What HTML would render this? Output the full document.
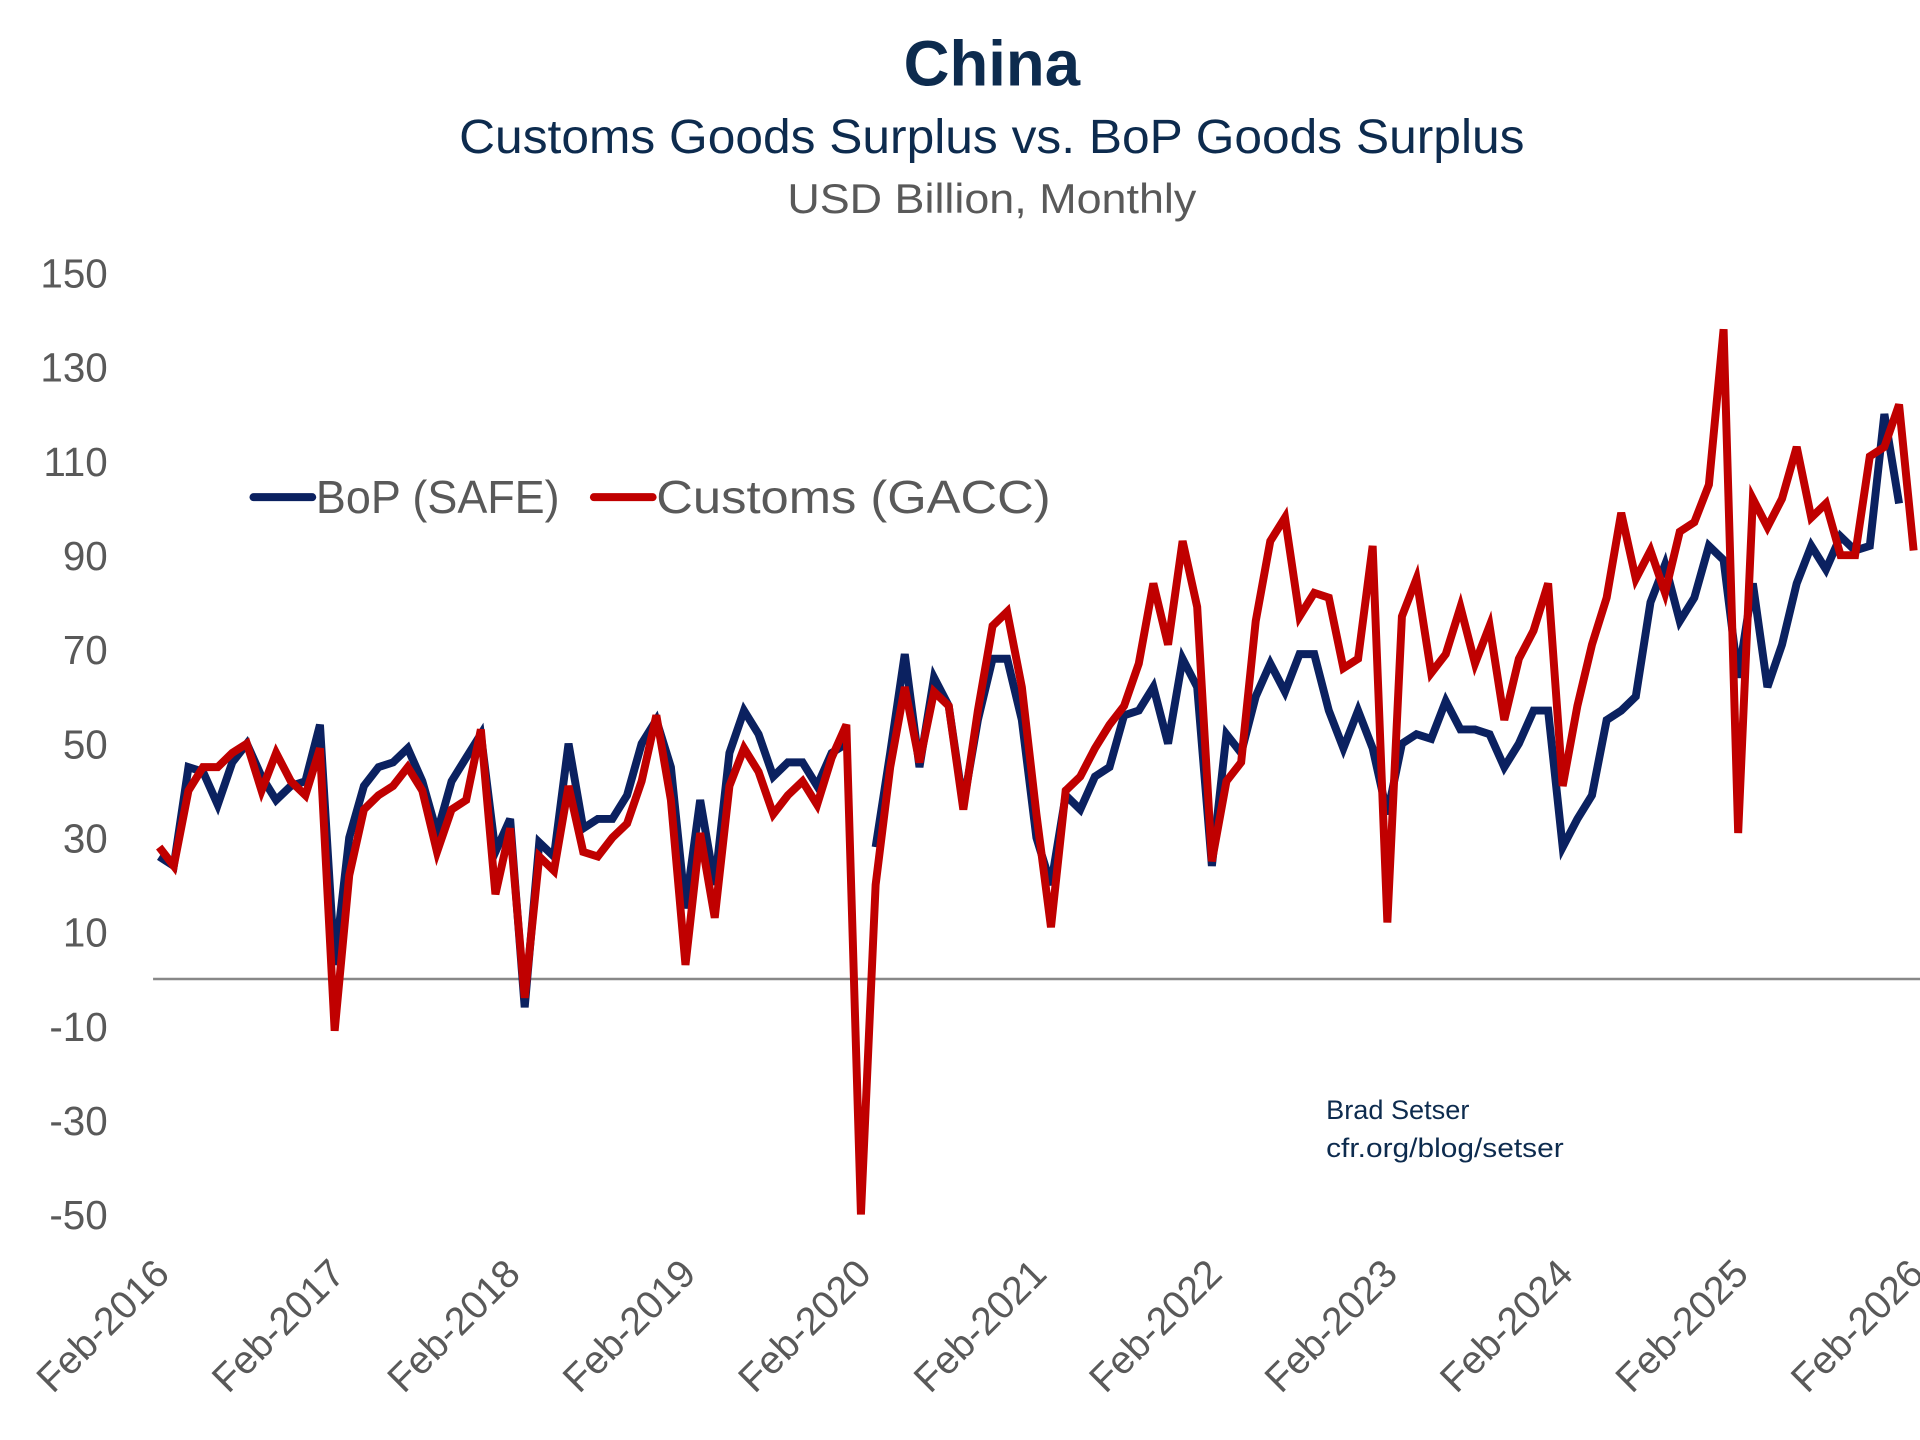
<!DOCTYPE html>
<html><head><meta charset="utf-8"><style>
html,body{margin:0;padding:0;background:#fff;}
svg{display:block;font-family:"Liberation Sans",sans-serif;}
</style></head><body>
<svg id="c" width="1920" height="1440" viewBox="0 0 1568 1176" xmlns="http://www.w3.org/2000/svg">
<rect width="1568" height="1176" fill="#fff"/>
<text x="810" y="70" text-anchor="middle" font-size="52" font-weight="bold" fill="#0d2b4e" textLength="144" lengthAdjust="spacingAndGlyphs">China</text>
<text x="810" y="125" text-anchor="middle" font-size="39" fill="#0d2b4e" textLength="870" lengthAdjust="spacingAndGlyphs">Customs Goods Surplus vs. BoP Goods Surplus</text>
<text x="810" y="174" text-anchor="middle" font-size="34" fill="#595959" textLength="334" lengthAdjust="spacingAndGlyphs">USD Billion, Monthly</text>
<g font-size="33" fill="#595959" text-anchor="end" id="yl"></g>
<line x1="125" y1="799.5" x2="1568" y2="799.5" stroke="#888" stroke-width="2"/>
<g id="xl" font-size="32" fill="#595959" text-anchor="end"></g>
<polyline id="bop" fill="none" stroke="#0b2160" stroke-width="6.5"/>
<polyline id="bop2" fill="none" stroke="#0b2160" stroke-width="6.5"/>
<polyline id="cus" fill="none" stroke="#c00000" stroke-width="6.5"/>
<line x1="207" y1="406" x2="255" y2="406" stroke="#0b2160" stroke-width="6.5" stroke-linecap="round"/>
<text x="258" y="419" font-size="38" fill="#595959" textLength="199" lengthAdjust="spacingAndGlyphs">BoP (SAFE)</text>
<line x1="485" y1="406" x2="533" y2="406" stroke="#c00000" stroke-width="6.5" stroke-linecap="round"/>
<text x="536" y="419" font-size="38" fill="#595959" textLength="322" lengthAdjust="spacingAndGlyphs">Customs (GACC)</text>
<text x="1083" y="914" font-size="22" fill="#0d2b4e" textLength="117" lengthAdjust="spacingAndGlyphs">Brad Setser</text>
<text x="1083" y="945" font-size="22" fill="#0d2b4e" textLength="194" lengthAdjust="spacingAndGlyphs">cfr.org/blog/setser</text>
</svg>
<script>
var NS="http://www.w3.org/2000/svg";
function X(i){return 130+i*11.94;}
function Y(v){return 799.5-v*3.845;}
var yl=document.getElementById('yl');
for(var v=150;v>=-50;v-=20){var t=document.createElementNS(NS,'text');t.setAttribute('x',88);t.setAttribute('y',Y(v)+12);t.textContent=v;yl.appendChild(t);}
var xl=document.getElementById('xl');
for(var k=0;k<=10;k++){var x=X(k*12)+10,y=1042;var t=document.createElementNS(NS,'text');t.setAttribute('x',x);t.setAttribute('y',y);t.setAttribute('transform','rotate(-45 '+x+' '+y+')');t.textContent='Feb-'+(2016+k);xl.appendChild(t);}
var bop=[26,24,45,44,37,46,50,43,38,41,42,54,3,30,41,45,46,49,42,31,42,47,52,27,34,-6,29,26,50,32,34,34,39,50,55,45,15,38,20,48,57,52,43,46,46,41,48,50];
var bop2=[28,48,69,45,64,58,37,55,68,68,55,30,20,39,36,43,45,56,57,62,50,68,62,24,52,48,60,67,61,69,69,57,49,57,49,35,50,52,51,59,53,53,52,45,50,57,57,28,34,39,55,57,60,80,88,76,81,92,89,64,84,62,71,84,92,87,94,91,92,120,101];
var cus=[28,24,40,45,45,48,50,40,48,42,39,49,-11,22,36,39,41,45,40,27,36,38,53,18,32,-4,26,23,41,27,26,30,33,42,56,38,3,31,13,41,49,44,35,39,42,37,47,54,-50,20,45,62,46,61,58,36,57,75,78,62,35,11,40,43,49,54,58,67,84,71,93,79,25,42,46,76,93,98,77,82,81,66,68,92,12,77,85,65,69,79,67,75,55,68,74,84,41,58,71,81,99,85,91,82,95,97,105,138,31,102,96,102,113,98,101,90,90,111,113,122,91];
function pts(a,o){return a.map(function(v,i){return X(i+o).toFixed(1)+','+Y(v).toFixed(1);}).join(' ');}
document.getElementById('bop').setAttribute('points',pts(bop,0));
document.getElementById('bop2').setAttribute('points',pts(bop2,49));
document.getElementById('cus').setAttribute('points',pts(cus,0));
</script>
</body></html>
